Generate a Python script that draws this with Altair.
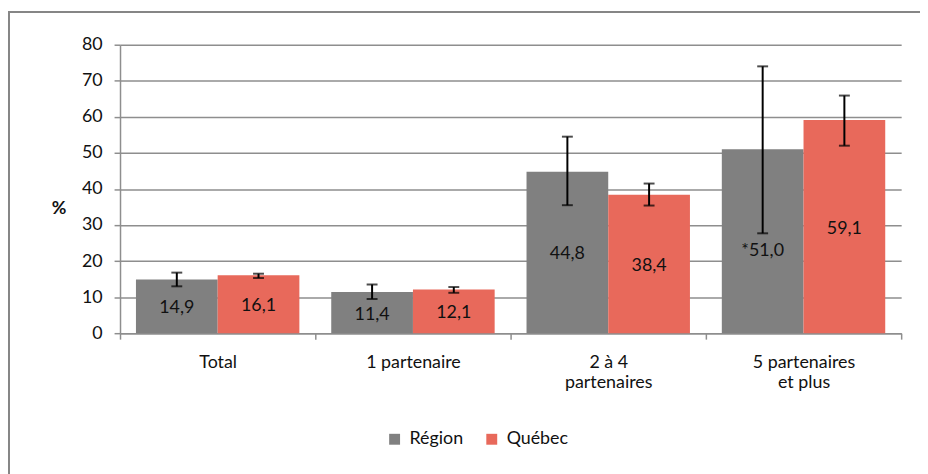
import altair as alt
import pandas as pd

categories = ["Total", "1 partenaire", "2 à 4 partenaires", "5 partenaires et plus"]
series = ["Région", "Québec"]
region_values = [14.9, 11.4, 44.8, 51.0]
quebec_values = [16.1, 12.1, 38.4, 59.1]
region_labels = ["14,9", "11,4", "44,8", "*51,0"]
quebec_labels = ["16,1", "12,1", "38,4", "59,1"]
region_low = [13.0, 9.5, 35.5, 27.7]
region_high = [16.8, 13.5, 54.5, 74.0]
quebec_low = [15.3, 11.2, 35.4, 52.0]
quebec_high = [16.5, 12.8, 41.5, 65.9]
y_ticks = [0, 10, 20, 30, 40, 50, 60, 70, 80]
colors = ["#808080", "#E8695B"]

rows = []
for i, c in enumerate(categories):
    rows.append(dict(cat=c, series="Région", value=region_values[i], label=region_labels[i],
                     low=region_low[i], high=region_high[i]))
    rows.append(dict(cat=c, series="Québec", value=quebec_values[i], label=quebec_labels[i],
                     low=quebec_low[i], high=quebec_high[i]))
df = pd.DataFrame(rows)
df["mid"] = df["value"] / 2

FONT = "Lato"
FS = 18
GRID = "#8e8e8e"
TXT = "#111111"

label_expr = ("datum.value == '2 à 4 partenaires' ? ['2 à 4', 'partenaires'] : "
              "datum.value == '5 partenaires et plus' ? ['5 partenaires', 'et plus'] : datum.value")

x = alt.X("cat:N", sort=categories, title=None,
          scale=alt.Scale(paddingInner=0, paddingOuter=0),
          axis=alt.Axis(labelAngle=0, tickBand="extent", domainColor=GRID, domainWidth=1.5,
                        tickColor=GRID, tickWidth=1.5, tickSize=6, labelPadding=15,
                        labelFontSize=FS, labelFont=FONT, labelColor=TXT,
                        labelLineHeight=20, labelExpr=label_expr, grid=False))
xo = alt.XOffset("series:N", sort=series,
                 scale=alt.Scale(domain=series, paddingOuter=0.195, paddingInner=0))
y_axis = alt.Axis(values=y_ticks, tickCount=9, gridColor=GRID, gridWidth=1.5,
                  domainColor=GRID, domainWidth=1.5, tickColor=GRID, tickWidth=1.5, tickSize=6,
                  labelPadding=12, labelFontSize=FS, labelFont=FONT, labelColor=TXT,
                  labelOverlap=False,
                  title="%", titleAngle=0, titleX=-62, titleY=165, titleAlign="center",
                  titleBaseline="middle", titleFont=FONT, titleFontSize=FS, titleFontWeight="bold",
                  titleColor=TXT)
yscale = alt.Scale(domain=[0, 80])

base = alt.Chart(df)

bars = base.mark_bar().encode(
    x=x, xOffset=xo, y=alt.Y("value:Q", scale=yscale, axis=y_axis),
    color=alt.Color("series:N", sort=series,
                    scale=alt.Scale(domain=series, range=colors),
                    legend=alt.Legend(title=None, orient="none", legendX=268, legendY=389,
                                      direction="horizontal", symbolType="square",
                                      symbolSize=121, symbolStrokeWidth=0, labelFontSize=FS,
                                      labelFont=FONT, labelColor=TXT, columnPadding=19,
                                      labelOffset=6)),
)

text_enc = dict(x=x, xOffset=xo, y=alt.Y("mid:Q", scale=yscale, axis=y_axis), text="label:N")
texts = base.mark_text(fontSize=FS, font=FONT, color=TXT, baseline="middle", dy=2).encode(
    **text_enc).transform_filter(alt.datum.label != "*51,0")
text_star = base.mark_text(fontSize=FS, font=FONT, color=TXT, baseline="middle", dy=10).encode(
    **text_enc).transform_filter(alt.datum.label == "*51,0")

rules = base.mark_rule(color="black", strokeWidth=2).encode(
    x=x, xOffset=xo, y=alt.Y("low:Q", scale=yscale, axis=y_axis), y2="high:Q")
cap_low = base.mark_tick(color="black", thickness=2, size=11, orient="horizontal").encode(
    x=x, xOffset=xo, y=alt.Y("low:Q", scale=yscale, axis=y_axis))
cap_high = base.mark_tick(color="black", thickness=2, size=11, orient="horizontal").encode(
    x=x, xOffset=xo, y=alt.Y("high:Q", scale=yscale, axis=y_axis))

frame = alt.Chart(pd.DataFrame({"f": [0]})).mark_rect(
    fillOpacity=0, stroke="#868686", strokeWidth=2).encode(
    x=alt.value(-112), x2=alt.value(1200), y=alt.value(-33), y2=alt.value(900))

chart = alt.layer(frame, bars, rules, cap_low, cap_high, texts, text_star).properties(
    width=788, height=291,
    autosize=alt.AutoSizeParams(type="none"),
    padding={"left": 113, "top": 35, "right": 19, "bottom": 140},
    background="white",
).configure_view(stroke=None)

chart.save("out.html", embed_options={"renderer": "svg", "actions": False})
